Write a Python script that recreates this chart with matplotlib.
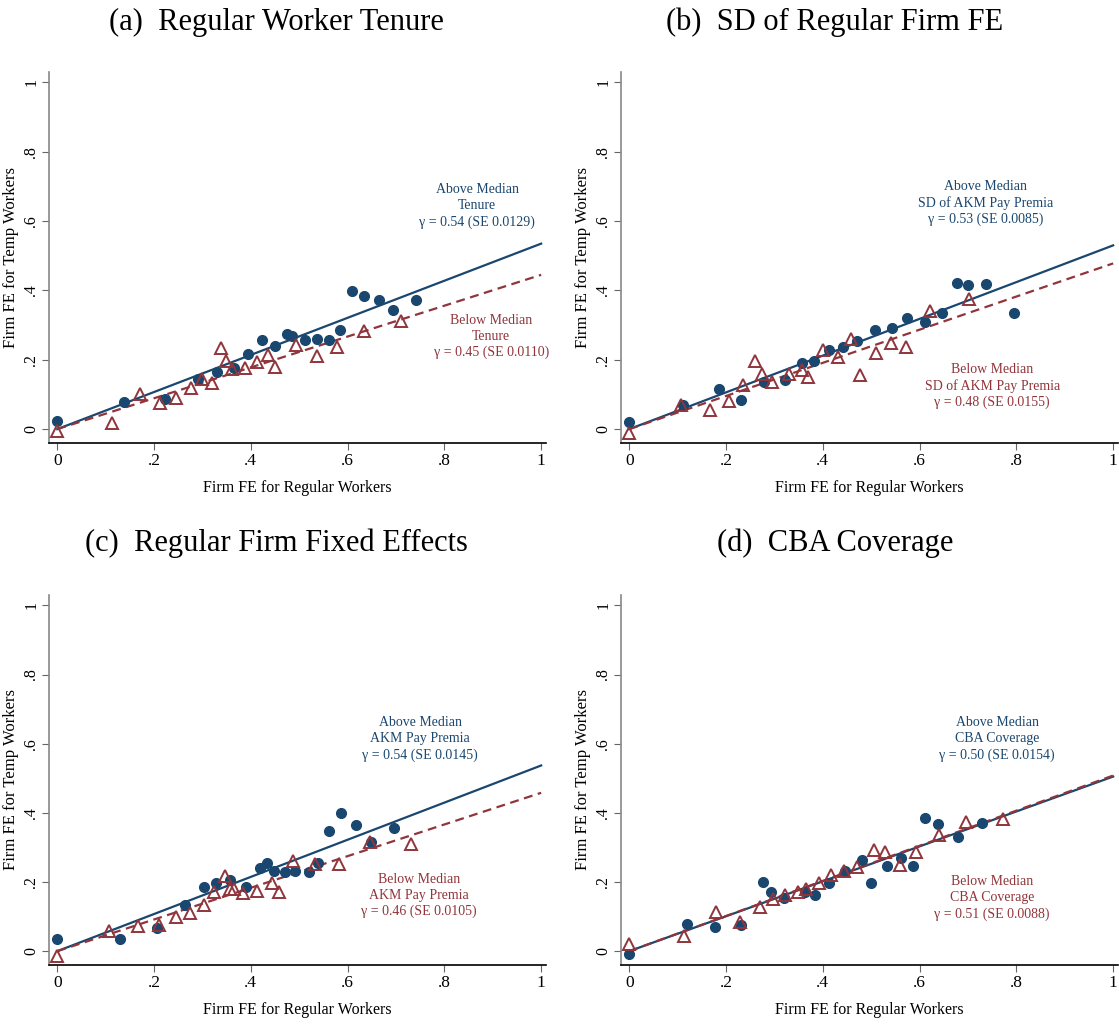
import numpy as np
import matplotlib
matplotlib.use("Agg")
import matplotlib.pyplot as plt

# panel titles and annotation labels
titles = ["(a)  Regular Worker Tenure", "(b)  SD of Regular Firm FE",
          "(c)  Regular Firm Fixed Effects", "(d)  CBA Coverage"]
groups = ["Tenure", "SD of AKM Pay Premia", "AKM Pay Premia", "CBA Coverage"]
above_txt = ["\u03b3 = 0.54 (SE 0.0129)", "\u03b3 = 0.53 (SE 0.0085)",
             "\u03b3 = 0.54 (SE 0.0145)", "\u03b3 = 0.50 (SE 0.0154)"]
below_txt = ["\u03b3 = 0.45 (SE 0.0110)", "\u03b3 = 0.48 (SE 0.0155)",
             "\u03b3 = 0.46 (SE 0.0105)", "\u03b3 = 0.51 (SE 0.0088)"]

# fitted lines (slope, intercept)
above_fit = [(0.535, 0.0), (0.530, 0.0), (0.537, 0.0), (0.505, 0.0)]
below_fit = [(0.445, 0.0), (0.478, 0.0), (0.458, 0.0), (0.508, 0.0)]

# (a) tenure
a_above_x = [0, 0.139, 0.222, 0.290, 0.330, 0.365, 0.394, 0.424, 0.450, 0.474,
             0.485, 0.511, 0.536, 0.5625, 0.584, 0.609, 0.634, 0.665, 0.693, 0.742]
a_above_y = [0.024, 0.077, 0.086, 0.146, 0.165, 0.175, 0.218, 0.256, 0.241, 0.273,
             0.270, 0.258, 0.260, 0.258, 0.287, 0.398, 0.385, 0.373, 0.344, 0.373]
a_below_x = [0, 0.113, 0.171, 0.2125, 0.246, 0.277, 0.299, 0.319, 0.338, 0.349,
             0.362, 0.387, 0.413, 0.435, 0.449, 0.493, 0.536, 0.579, 0.634, 0.711]
a_below_y = [-0.005, 0.017, 0.100, 0.075, 0.091, 0.118, 0.144, 0.134, 0.233, 0.196,
             0.172, 0.177, 0.193, 0.214, 0.180, 0.244, 0.212, 0.236, 0.282, 0.312]

# (b) SD of firm FE
b_above_x = [0, 0.112, 0.186, 0.231, 0.278, 0.322, 0.356, 0.381, 0.412, 0.442,
             0.471, 0.508, 0.543, 0.574, 0.611, 0.647, 0.677, 0.701, 0.737, 0.796]
b_above_y = [0.021, 0.069, 0.117, 0.083, 0.136, 0.143, 0.191, 0.196, 0.227, 0.237,
             0.254, 0.285, 0.293, 0.320, 0.309, 0.336, 0.422, 0.415, 0.419, 0.336]
b_below_x = [0, 0.108, 0.166, 0.207, 0.236, 0.260, 0.274, 0.294, 0.331, 0.357,
             0.370, 0.400, 0.432, 0.459, 0.476, 0.509, 0.540, 0.572, 0.622, 0.702]
b_below_y = [-0.010, 0.069, 0.055, 0.082, 0.127, 0.196, 0.158, 0.136, 0.158, 0.170,
             0.151, 0.227, 0.208, 0.261, 0.155, 0.220, 0.247, 0.237, 0.340, 0.376]

# (c) firm fixed effects
c_above_x = [0, 0.129, 0.207, 0.265, 0.303, 0.328, 0.357, 0.390, 0.419, 0.433,
             0.447, 0.471, 0.492, 0.521, 0.538, 0.562, 0.586, 0.618, 0.649, 0.696]
c_above_y = [0.035, 0.035, 0.067, 0.134, 0.186, 0.197, 0.207, 0.185, 0.241, 0.256,
             0.233, 0.228, 0.233, 0.228, 0.256, 0.347, 0.400, 0.365, 0.315, 0.357]
c_below_x = [0, 0.108, 0.167, 0.210, 0.246, 0.275, 0.303, 0.324, 0.346, 0.358,
             0.366, 0.384, 0.413, 0.444, 0.459, 0.488, 0.532, 0.582, 0.646, 0.731]
c_below_y = [-0.015, 0.059, 0.073, 0.076, 0.100, 0.110, 0.134, 0.172, 0.218, 0.180,
             0.180, 0.167, 0.175, 0.196, 0.172, 0.260, 0.252, 0.252, 0.317, 0.311]

# (d) CBA coverage
d_above_x = [0, 0.120, 0.178, 0.231, 0.276, 0.292, 0.320, 0.363, 0.384, 0.412,
             0.445, 0.480, 0.499, 0.532, 0.561, 0.587, 0.611, 0.638, 0.679, 0.730]
d_above_y = [-0.007, 0.079, 0.070, 0.077, 0.200, 0.170, 0.155, 0.172, 0.163, 0.198,
             0.231, 0.265, 0.198, 0.246, 0.270, 0.246, 0.386, 0.367, 0.330, 0.372]
d_below_x = [0, 0.114, 0.180, 0.228, 0.270, 0.297, 0.322, 0.348, 0.365, 0.393,
             0.416, 0.444, 0.470, 0.505, 0.529, 0.560, 0.592, 0.641, 0.696, 0.773]
d_below_y = [0.022, 0.044, 0.112, 0.084, 0.129, 0.152, 0.163, 0.170, 0.179, 0.198,
             0.220, 0.233, 0.243, 0.293, 0.287, 0.250, 0.287, 0.336, 0.374, 0.381]

above_x = [a_above_x, b_above_x, c_above_x, d_above_x]
above_y = [a_above_y, b_above_y, c_above_y, d_above_y]
below_x = [a_below_x, b_below_x, c_below_x, d_below_x]
below_y = [a_below_y, b_below_y, c_below_y, d_below_y]

# where the annotation text sits (data coords, middle line)
above_pos = [(0.868, 0.644), (0.736, 0.652), (0.75, 0.614), (0.76, 0.614)]
below_pos = [(0.897, 0.267), (0.75, 0.124), (0.748, 0.161), (0.75, 0.153)]

blue = "#1a476f"
red = "#90353b"
plt.rcParams['font.family'] = ["Liberation Serif", "DejaVu Serif"]

fig = plt.figure(figsize=(11.19, 10.26), dpi=100)
W, H = 1119.0, 1026.0
lefts = [49, 621, 49, 621]
rights = [546, 1118, 546, 1118]
tops = [72, 72, 595, 595]
bottoms = [443, 443, 965, 965]
title_x = [276, 835, 276, 835]
title_y = [22, 22, 543, 543]

for i in range(4):
    ax = fig.add_axes([lefts[i] / W, 1 - bottoms[i] / H,
                       (rights[i] - lefts[i]) / W, (bottoms[i] - tops[i]) / H])
    ax.set_xlim(-0.017, 1.01)
    ax.set_ylim(-0.04, 1.03)

    xs = np.array([0.0, 1.0])
    s, b = above_fit[i]
    ax.plot(xs, b + s * xs, color=blue, lw=1.6, zorder=2)
    s, b = below_fit[i]
    ax.plot(xs, b + s * xs, color=red, lw=1.6, ls=(0, (4, 2.5)), zorder=2)

    ax.plot(above_x[i], above_y[i], 'o', color=blue, ms=7, mec=blue, zorder=3)
    ax.plot(below_x[i], below_y[i], '^', color=red, ms=8, mfc='none', mew=1.4, zorder=3)

    ax.text(above_pos[i][0], above_pos[i][1],
            "Above Median\n" + groups[i] + "\n" + above_txt[i],
            color=blue, fontsize=10, ha='center', va='center', linespacing=1.3)
    ax.text(below_pos[i][0], below_pos[i][1],
            "Below Median\n" + groups[i] + "\n" + below_txt[i],
            color=red, fontsize=10, ha='center', va='center', linespacing=1.3)

    ticks = [0, 0.2, 0.4, 0.6, 0.8, 1]
    labels = ["0", ".2", ".4", ".6", ".8", "1"]
    ax.set_xticks(ticks)
    ax.set_xticklabels(labels)
    ax.set_yticks(ticks)
    ax.set_yticklabels(labels, rotation=90, va='center')
    ax.tick_params(direction='out', length=5, color='#666666', labelsize=11.5, pad=2)
    ax.tick_params(axis='x', labelsize=12.5)

    for side in ['top', 'right']:
        ax.spines[side].set_visible(False)
    ax.spines['left'].set_color('#888888')
    ax.spines['left'].set_linewidth(1.2)
    ax.spines['bottom'].set_color('black')
    ax.spines['bottom'].set_linewidth(1.2)

    ax.set_xlabel("Firm FE for Regular Workers", fontsize=11.5, labelpad=8)
    ax.set_ylabel("Firm FE for Temp Workers", fontsize=12)
    ax.yaxis.set_label_coords(-0.06, 0.5)

    fig.text(title_x[i] / W, 1 - title_y[i] / H, titles[i], fontsize=22,
             ha='center', va='center')

fig.savefig("out.png", dpi=100)
